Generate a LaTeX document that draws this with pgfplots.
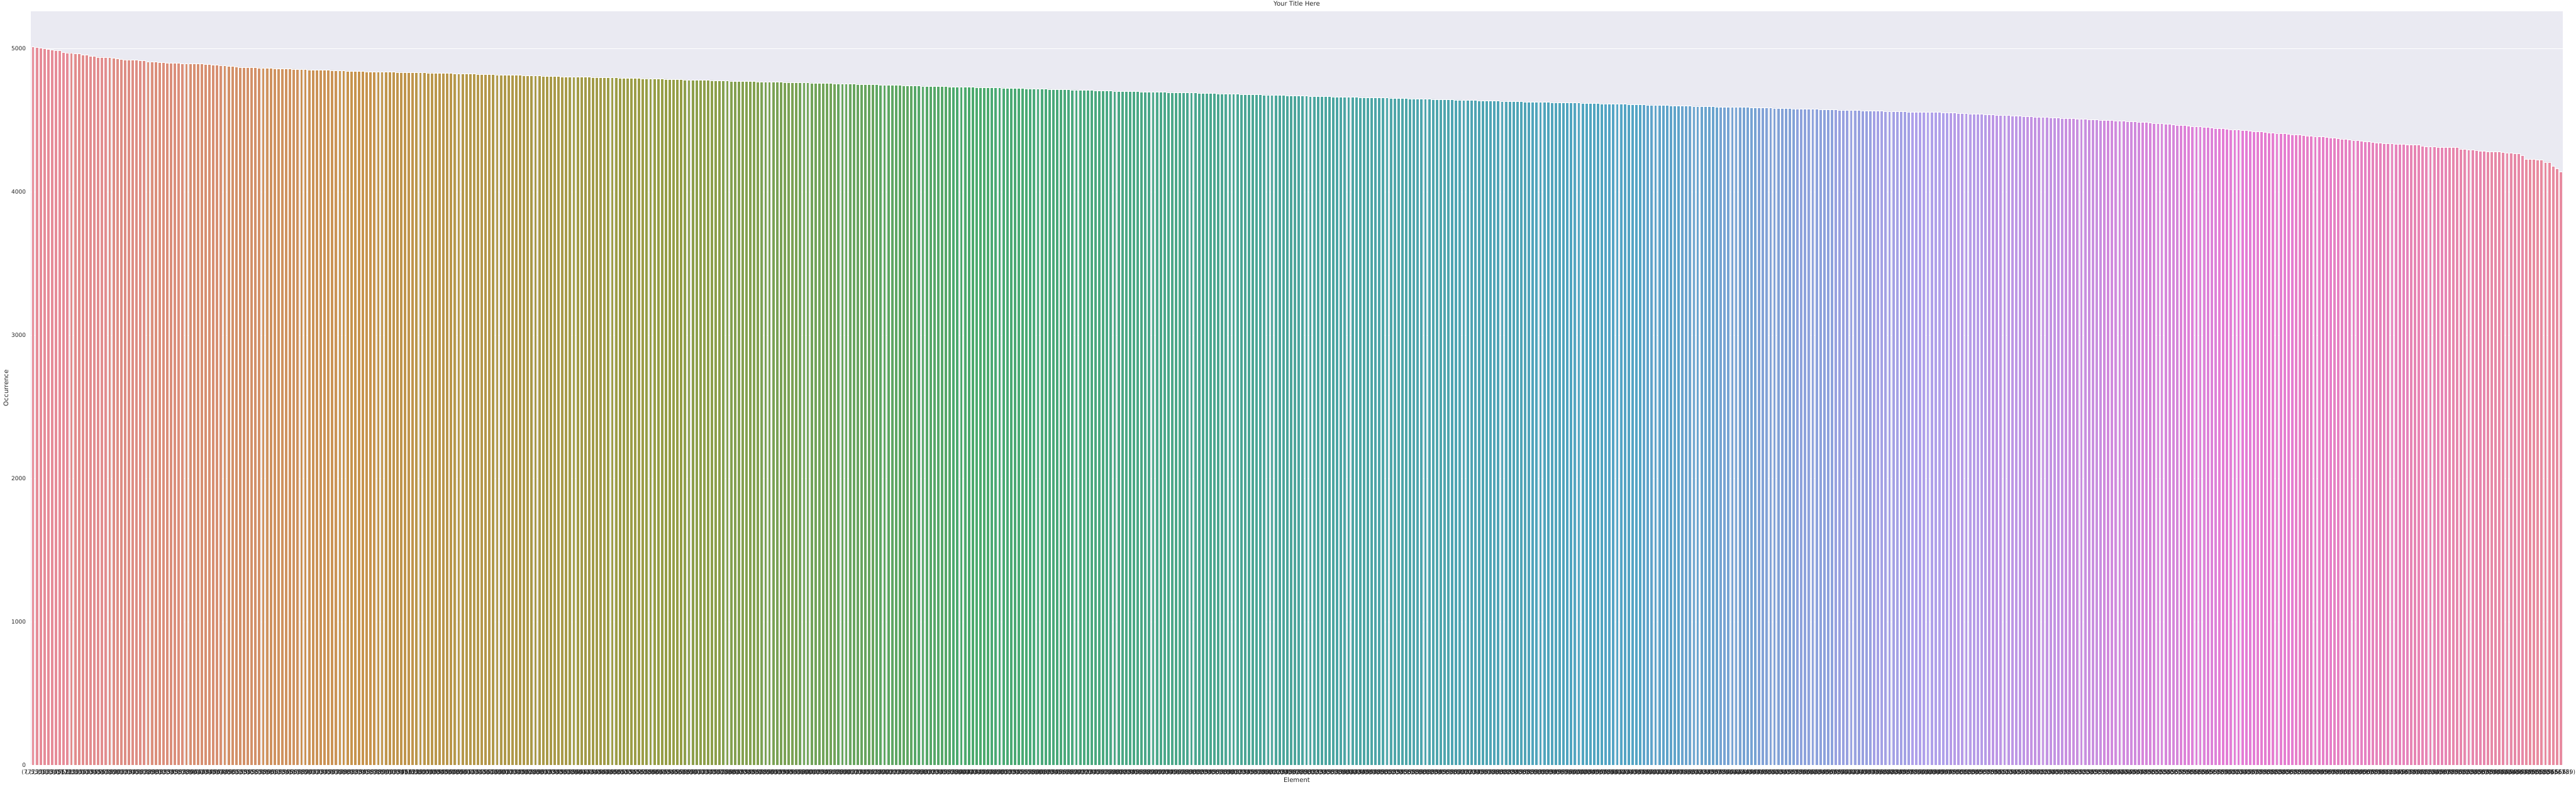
\documentclass[border=0pt]{standalone}
\usepackage{fontspec}
\setmainfont{DejaVu Sans}
\usepackage{pgfplots}
\usepackage{pgfplotstable}
\pgfplotsset{compat=1.18}
\definecolor{bgc}{HTML}{EAEAF2}
\definecolor{txt}{HTML}{262626}
\definecolor{h0}{RGB}{232,140,156}
\definecolor{h1}{RGB}{200,148,78}
\definecolor{h2}{RGB}{150,158,70}
\definecolor{h3}{RGB}{74,170,112}
\definecolor{h4}{RGB}{76,166,158}
\definecolor{h5}{RGB}{82,165,196}
\definecolor{h6}{RGB}{176,160,234}
\definecolor{h7}{RGB}{229,124,212}
\definecolor{h8}{RGB}{232,140,156}
\foreach \i in {0,...,65}{%
  \pgfmathtruncatemacro\a{floor((\i*10+4.5)*8/660)}%
  \pgfmathtruncatemacro\b{\a+1}%
  \pgfmathtruncatemacro\p{round(100*((\i*10+4.5)*8/660-\a))}%
  \xglobal\colorlet{seg\i}{h\b!\p!h\a}%
}
\pgfplotstableread[row sep=\\]{y\\
5013\\ 5008\\ 5004\\ 5001\\ 4995\\ 4992\\ 4990\\ 4988\\ 4974\\ 4972\\
4972\\ 4967\\ 4965\\ 4958\\ 4956\\ 4949\\ 4947\\ 4942\\ 4942\\ 4940\\
4938\\ 4935\\ 4931\\ 4926\\ 4924\\ 4924\\ 4922\\ 4922\\ 4917\\ 4917\\
4910\\ 4910\\ 4908\\ 4906\\ 4903\\ 4901\\ 4901\\ 4899\\ 4899\\ 4897\\
4897\\ 4897\\ 4894\\ 4894\\ 4894\\ 4892\\ 4890\\ 4887\\ 4887\\ 4885\\
4881\\ 4878\\ 4878\\ 4876\\ 4871\\ 4869\\ 4869\\ 4869\\ 4869\\ 4867\\
4866\\ 4865\\ 4864\\ 4863\\ 4862\\ 4861\\ 4860\\ 4859\\ 4858\\ 4857\\
4856\\ 4855\\ 4854\\ 4853\\ 4852\\ 4852\\ 4851\\ 4850\\ 4849\\ 4848\\
4847\\ 4846\\ 4845\\ 4844\\ 4843\\ 4843\\ 4842\\ 4841\\ 4840\\ 4839\\
4839\\ 4838\\ 4838\\ 4837\\ 4837\\ 4836\\ 4836\\ 4835\\ 4835\\ 4835\\
4834\\ 4834\\ 4833\\ 4832\\ 4832\\ 4831\\ 4830\\ 4830\\ 4829\\ 4828\\
4827\\ 4827\\ 4826\\ 4825\\ 4824\\ 4824\\ 4823\\ 4822\\ 4821\\ 4821\\
4820\\ 4819\\ 4818\\ 4818\\ 4817\\ 4816\\ 4815\\ 4815\\ 4814\\ 4813\\
4812\\ 4811\\ 4811\\ 4810\\ 4809\\ 4808\\ 4808\\ 4807\\ 4806\\ 4805\\
4805\\ 4804\\ 4803\\ 4803\\ 4802\\ 4802\\ 4801\\ 4801\\ 4800\\ 4800\\
4799\\ 4798\\ 4798\\ 4797\\ 4796\\ 4795\\ 4795\\ 4794\\ 4793\\ 4792\\
4792\\ 4791\\ 4790\\ 4789\\ 4789\\ 4788\\ 4787\\ 4786\\ 4786\\ 4785\\
4784\\ 4783\\ 4783\\ 4782\\ 4781\\ 4780\\ 4780\\ 4779\\ 4778\\ 4777\\
4777\\ 4776\\ 4775\\ 4774\\ 4774\\ 4773\\ 4772\\ 4771\\ 4771\\ 4770\\
4769\\ 4769\\ 4768\\ 4768\\ 4767\\ 4767\\ 4766\\ 4766\\ 4765\\ 4765\\
4764\\ 4763\\ 4763\\ 4762\\ 4761\\ 4760\\ 4760\\ 4759\\ 4758\\ 4757\\
4757\\ 4756\\ 4755\\ 4754\\ 4754\\ 4753\\ 4752\\ 4751\\ 4751\\ 4750\\
4749\\ 4748\\ 4748\\ 4747\\ 4746\\ 4745\\ 4745\\ 4744\\ 4743\\ 4742\\
4742\\ 4741\\ 4740\\ 4739\\ 4739\\ 4738\\ 4737\\ 4736\\ 4736\\ 4735\\
4734\\ 4734\\ 4733\\ 4733\\ 4732\\ 4732\\ 4731\\ 4731\\ 4730\\ 4730\\
4729\\ 4728\\ 4728\\ 4727\\ 4726\\ 4725\\ 4725\\ 4724\\ 4723\\ 4722\\
4722\\ 4721\\ 4720\\ 4719\\ 4719\\ 4718\\ 4717\\ 4716\\ 4716\\ 4715\\
4714\\ 4713\\ 4713\\ 4712\\ 4711\\ 4710\\ 4710\\ 4709\\ 4708\\ 4707\\
4707\\ 4706\\ 4705\\ 4704\\ 4704\\ 4703\\ 4702\\ 4701\\ 4701\\ 4700\\
4699\\ 4699\\ 4698\\ 4698\\ 4697\\ 4697\\ 4696\\ 4696\\ 4695\\ 4695\\
4694\\ 4693\\ 4693\\ 4692\\ 4691\\ 4690\\ 4690\\ 4689\\ 4688\\ 4687\\
4687\\ 4686\\ 4685\\ 4684\\ 4684\\ 4683\\ 4682\\ 4681\\ 4681\\ 4680\\
4679\\ 4678\\ 4678\\ 4677\\ 4676\\ 4675\\ 4675\\ 4674\\ 4673\\ 4672\\
4672\\ 4671\\ 4670\\ 4669\\ 4669\\ 4668\\ 4667\\ 4666\\ 4666\\ 4665\\
4664\\ 4664\\ 4663\\ 4663\\ 4662\\ 4662\\ 4661\\ 4661\\ 4660\\ 4660\\
4659\\ 4658\\ 4658\\ 4657\\ 4656\\ 4655\\ 4655\\ 4654\\ 4653\\ 4652\\
4652\\ 4651\\ 4650\\ 4649\\ 4649\\ 4648\\ 4647\\ 4646\\ 4646\\ 4645\\
4644\\ 4643\\ 4643\\ 4642\\ 4641\\ 4640\\ 4640\\ 4639\\ 4638\\ 4637\\
4637\\ 4636\\ 4635\\ 4634\\ 4634\\ 4633\\ 4632\\ 4631\\ 4631\\ 4630\\
4629\\ 4629\\ 4628\\ 4628\\ 4627\\ 4627\\ 4626\\ 4626\\ 4625\\ 4625\\
4624\\ 4623\\ 4623\\ 4622\\ 4621\\ 4620\\ 4620\\ 4619\\ 4618\\ 4617\\
4617\\ 4616\\ 4615\\ 4614\\ 4614\\ 4613\\ 4612\\ 4611\\ 4611\\ 4610\\
4609\\ 4608\\ 4608\\ 4607\\ 4606\\ 4605\\ 4605\\ 4604\\ 4603\\ 4602\\
4602\\ 4601\\ 4600\\ 4599\\ 4599\\ 4598\\ 4597\\ 4596\\ 4596\\ 4595\\
4594\\ 4594\\ 4593\\ 4593\\ 4592\\ 4592\\ 4591\\ 4591\\ 4590\\ 4590\\
4589\\ 4588\\ 4588\\ 4587\\ 4586\\ 4585\\ 4585\\ 4584\\ 4583\\ 4582\\
4582\\ 4581\\ 4580\\ 4579\\ 4579\\ 4578\\ 4577\\ 4576\\ 4576\\ 4575\\
4574\\ 4573\\ 4573\\ 4572\\ 4571\\ 4570\\ 4570\\ 4569\\ 4568\\ 4567\\
4567\\ 4566\\ 4565\\ 4564\\ 4564\\ 4563\\ 4562\\ 4561\\ 4561\\ 4560\\
4559\\ 4559\\ 4558\\ 4558\\ 4557\\ 4557\\ 4556\\ 4556\\ 4555\\ 4555\\
4554\\ 4553\\ 4551\\ 4550\\ 4549\\ 4547\\ 4546\\ 4545\\ 4544\\ 4542\\
4541\\ 4540\\ 4538\\ 4537\\ 4536\\ 4534\\ 4533\\ 4532\\ 4531\\ 4529\\
4528\\ 4527\\ 4525\\ 4524\\ 4523\\ 4521\\ 4520\\ 4519\\ 4518\\ 4516\\
4515\\ 4514\\ 4512\\ 4511\\ 4510\\ 4508\\ 4507\\ 4506\\ 4505\\ 4503\\
4502\\ 4501\\ 4499\\ 4498\\ 4497\\ 4495\\ 4494\\ 4493\\ 4492\\ 4490\\
4488\\ 4486\\ 4484\\ 4481\\ 4479\\ 4477\\ 4475\\ 4473\\ 4470\\ 4468\\
4466\\ 4464\\ 4462\\ 4459\\ 4457\\ 4455\\ 4453\\ 4451\\ 4448\\ 4446\\
4444\\ 4442\\ 4440\\ 4437\\ 4435\\ 4433\\ 4431\\ 4429\\ 4426\\ 4424\\
4422\\ 4420\\ 4418\\ 4415\\ 4413\\ 4411\\ 4409\\ 4407\\ 4404\\ 4402\\
4400\\ 4398\\ 4396\\ 4393\\ 4391\\ 4389\\ 4387\\ 4385\\ 4382\\ 4380\\
4377\\ 4374\\ 4371\\ 4368\\ 4365\\ 4362\\ 4359\\ 4356\\ 4353\\ 4350\\
4347\\ 4344\\ 4341\\
4337\\ 4337\\ 4337\\ 4335\\ 4335\\ 4333\\ 4330\\ 4330\\ 4328\\ 4328\\
4323\\ 4317\\ 4317\\ 4317\\ 4314\\ 4312\\ 4312\\ 4312\\ 4312\\ 4312\\
4301\\ 4298\\ 4294\\ 4294\\ 4292\\ 4287\\ 4285\\ 4282\\ 4282\\ 4282\\
4280\\ 4278\\ 4273\\ 4273\\ 4269\\ 4269\\ 4253\\ 4228\\ 4228\\ 4228\\
4223\\ 4223\\ 4209\\ 4209\\ 4180\\ 4164\\ 4139\\
}\data
\begin{document}
\begin{tikzpicture}
\useasboundingbox (-68.26pt,-48.24pt) rectangle (5608.2pt,1686.3pt);
\begin{axis}[
  at={(0pt,0pt)}, anchor=south west,
  scale only axis, width=5578.7pt, height=1662pt,
  xmin=-0.5, xmax=659.5, ymin=0, ymax=5263.6,
  axis background/.style={fill=bgc},
  axis line style={draw=none},
  major tick length=0pt,
  ymajorgrids, grid style={white, line width=1pt},
  ytick={0,1000,2000,3000,4000,5000},
  /pgf/number format/assume math mode=true,
  /pgf/number format/1000 sep={},
  yticklabel style={font=\fontsize{12.5}{15}\selectfont, text=txt, anchor=east, inner sep=0pt, xshift=-11pt},
  xtick={0,...,659},
  xticklabel={(7, 5, \ticknum)},
  xticklabel style={font=\fontsize{12.5}{15}\selectfont, text=txt, anchor=north, inner sep=0pt, yshift=-10.5pt},
  title={Your Title Here},
  title style={font=\fontsize{14}{17}\selectfont, text=txt, at={(axis description cs:0.5,1.00331)}, anchor=base, inner sep=0pt, yshift=0pt},
  xlabel={Element},
  xlabel style={font=\fontsize{14}{17}\selectfont, text=txt, at={(axis description cs:0.5,-0.023406)}, anchor=base, inner sep=0pt},
  ylabel={Occurrence},
  ylabel style={font=\fontsize{14}{17}\selectfont, text=txt, at={(axis description cs:-0.009877,0.5)}, anchor=center, inner sep=0pt},
]
\pgfplotsforeachungrouped \i in {0,...,65}{%
  \pgfmathsetmacro\lo{\i*10-0.5}%
  \pgfmathsetmacro\hi{\i*10+9.5}%
  \edef\temp{\noexpand\addplot[ybar, bar width=0.8, /pgf/bar shift=0pt, fill=seg\i, draw=white, line width=0.8pt, restrict x to domain=\lo:\hi, forget plot] table[x expr=\noexpand\coordindex, y=y]{\noexpand\data};}%
  \temp
}
\end{axis}
\end{tikzpicture}
\end{document}
